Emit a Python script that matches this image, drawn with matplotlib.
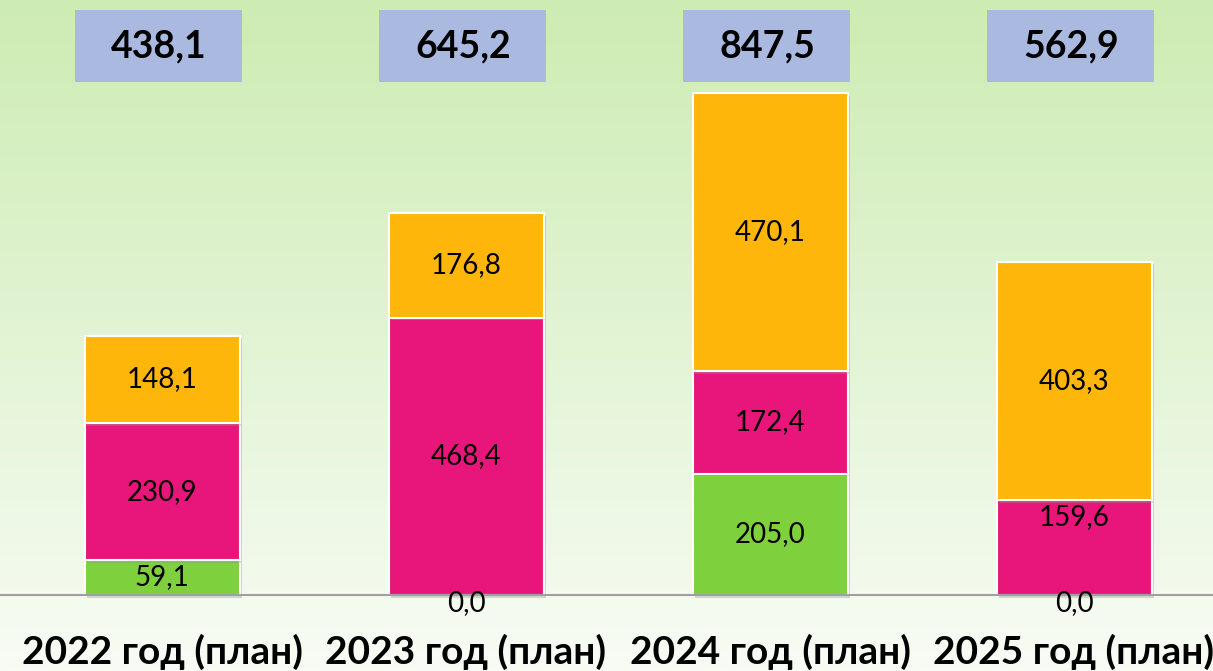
import numpy as np
import matplotlib
matplotlib.use("Agg")
from matplotlib import pyplot as plt
from matplotlib.patches import Rectangle
import matplotlib.patheffects as pe

# chart data
years = ["2022 год (план)", "2023 год (план)", "2024 год (план)", "2025 год (план)"]
green_vals = [59.1, 0.0, 205.0, 0.0]
pink_vals = [230.9, 468.4, 172.4, 159.6]
orange_vals = [148.1, 176.8, 470.1, 403.3]
totals = [438.1, 645.2, 847.5, 562.9]

plt.rcParams['font.family'] = ['Lato', 'DejaVu Sans']

W, H = 1213, 671
fig = plt.figure(figsize=(W / 100, H / 100), dpi=100)

# background gradient
bg = fig.add_axes([0, 0, 1, 1])
bg.set_axis_off()
top = np.array([0xCD, 0xEC, 0xB3]) / 255
bot = np.array([0xF8, 0xFC, 0xF5]) / 255
t = np.linspace(0, 1, 256)[:, None]
grad = top[None, :] * (1 - t) + bot[None, :] * t
bg.imshow(grad[:, None, :], aspect='auto', extent=[0, 1, 0, 1])

ax = fig.add_axes([0, 0, 1, 1])
ax.patch.set_alpha(0)
ax.set_axis_off()

px = 0.5923          # pixels per unit
base_px = 595        # baseline from top
step = 304.0
c0 = 162.0
ax.set_xlim(-c0 / step, (W - c0) / step)
ax.set_ylim(-(H - base_px) / px, base_px / px)

x = np.arange(len(years))
bw = 155 / step
shadow = [pe.SimplePatchShadow(offset=(2, -2), shadow_rgbFace='#8a9a80', alpha=0.35), pe.Normal()]

colors = ['#7ED03C', '#E8167A', '#FFB60B']
series = [green_vals, pink_vals, orange_vals]
bottoms = np.zeros(len(years))
# label vertical tweaks in points (style only)
tweaks = {(1, 3): 22}
for si, (vals, col) in enumerate(zip(series, colors)):
    vals = np.array(vals)
    bars = ax.bar(x, vals, bw, bottom=bottoms, color=col, edgecolor='white',
                  linewidth=1.5, zorder=3)
    for b in bars:
        if b.get_height() > 0:
            b.set_path_effects(shadow)
    for i, v in enumerate(vals):
        txt = f"{v:.1f}".replace('.', ',')
        yc = bottoms[i] + v / 2
        dy = tweaks.get((si, i), 0)
        if v == 0:
            dy = -6
        ax.annotate(txt, (x[i], yc), xytext=(0, dy), textcoords='offset points',
                    ha='center', va='center', fontsize=20, color='black', zorder=5)
    bottoms = bottoms + vals

# axis line
ax.axhline(0, color='#A0A0A0', linewidth=1.5, zorder=4)

# total boxes
box_w = 167 / step
box_h = 72 / px
box_cy = (base_px - 46) / px
for i, tot in enumerate(totals):
    ax.add_patch(Rectangle((x[i] - 0.01 - box_w / 2, box_cy - box_h / 2), box_w, box_h,
                           facecolor='#AAB9E0', edgecolor='none', zorder=3))
    ax.text(x[i] - 0.01, box_cy, f"{tot:.1f}".replace('.', ','), ha='center', va='center',
            fontsize=27, fontweight='bold', zorder=5)

# category labels
lab_y = -(652 - base_px) / px
for i, name in enumerate(years):
    ax.text(x[i], lab_y, name, ha='center', va='center', fontsize=28, fontweight='bold')

fig.savefig("out.png", dpi=100)
